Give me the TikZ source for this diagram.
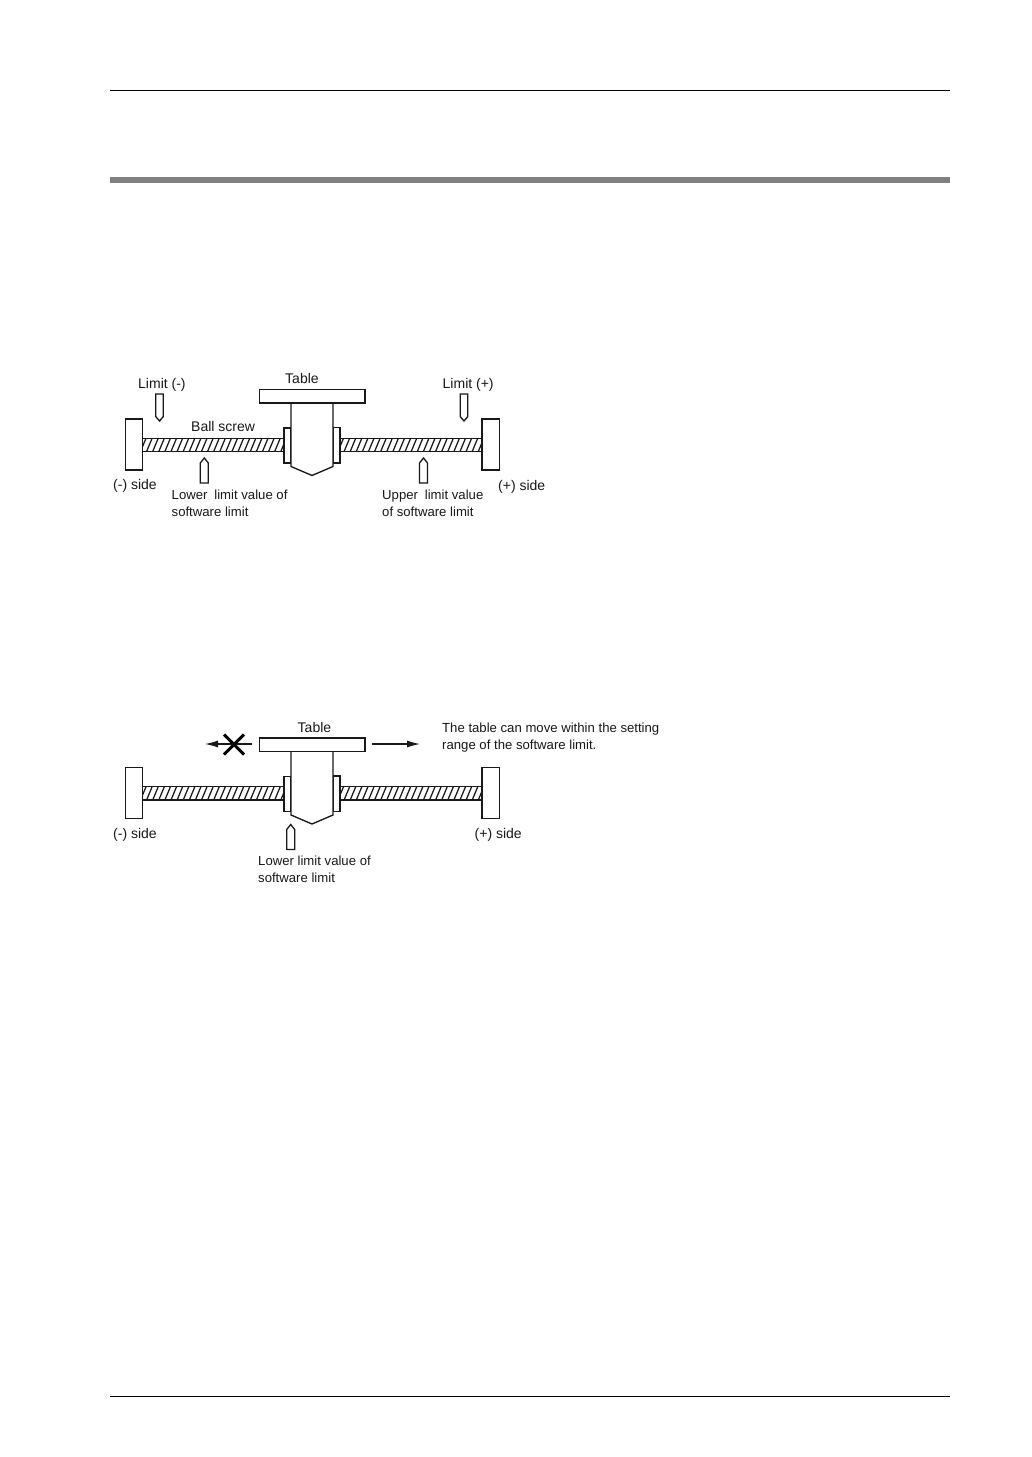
\documentclass[tikz,border=0pt]{standalone}
\usepackage{fontspec}
\setmainfont{Liberation Sans}
\usetikzlibrary{arrows.meta}
\tikzset{
  part/.style={draw=black!90,line width=1.35pt,fill=white},
  lbl/.style={inner sep=0pt,anchor=base west,font=\fontsize{14}{15}\selectfont,text=black!90},
  lbs/.style={inner sep=0pt,anchor=base west,font=\fontsize{13.15}{15}\selectfont,text=black!90},
  rule/.style={draw=black,line width=.9pt},
  hatch/.style={draw=black!90,line width=1.25pt},
  marker/.style={draw=black!90,line width=1.3pt,fill=white,line join=miter},
  movearrow/.style={draw=black!90,line width=1.1pt,-{Latex[length=13pt,width=7pt]}},
  cross/.style={draw=black,line width=3pt}
}
\newcommand{\downmark}[2]{\draw[marker] ({#1-3.8},#2) -- ({#1+3.8},#2) -- ({#1+3.8},{#2+22.5}) -- (#1,{#2+27}) -- ({#1-3.8},{#2+22.5}) -- cycle;}
\newcommand{\upmark}[2]{\draw[marker] ({#1-4},#2) -- ({#1+4},#2) -- ({#1+4},{#2-20}) -- (#1,{#2-25}) -- ({#1-4},{#2-20}) -- cycle;}
\newcommand{\screwpart}[2]{%
  \begin{scope}\clip (#1,438.3) rectangle (#2,451.5);
    \foreach \i in {-1,0,...,24}{\draw[hatch] ({#1+6.1*\i-2},451.5) -- ({#1+6.1*\i+3.5},438.3);}
  \end{scope}
  \draw[hatch] (#1,438.3) -- (#2,438.3) (#1,451.5) -- (#2,451.5);}
\newcommand{\assembly}{%
  \screwpart{142.5}{284}
  \screwpart{340}{482}
  \draw[part] (125.5,419) rectangle (142.5,470);
  \draw[part] (482,419) rectangle (499.5,470);
  \draw[part] (284,428) rectangle (291,463);
  \draw[part] (333,427.5) rectangle (340,463);
  \draw[part] (291,403) -- (291,466.5) -- (312,475.5) -- (333,466.5) -- (333,403);
  \draw[part] (259.5,389.5) rectangle (365,403);
}
\begin{document}
\begin{tikzpicture}[x=1pt,y=-1pt]
\useasboundingbox (0,0) rectangle (1032,1457);
\fill[white] (0,0) rectangle (1032,1457);
\draw[rule] (110,90.5) -- (950,90.5);
\fill[black!50] (110,177) rectangle (950,183);
\draw[rule] (110,1396.5) -- (950,1396.5);

% first diagram
\assembly
\downmark{159.5}{394}
\downmark{464}{394}
\upmark{204.3}{483}
\upmark{423.5}{483}
\node[lbl] (t1) at (285,383) {Table};
\node[lbl] (lm) at (138,388.5) {Limit (-)};
\node[lbl] (lp) at (442.5,388.5) {Limit (+)};
\node[lbl] (bs) at (191,431) {Ball screw};
\node[lbl] (ms) at (113,489) {(-) side};
\node[lbl] (ps) at (498,490) {(+) side};
\node[lbs] (ll1) at (171.5,499.5) {Lower\hspace{3.2pt} limit value of};
\node[lbs] (ll2) at (171.5,516) {software limit};
\node[lbs] (ul1) at (382,499.5) {Upper\hspace{3.2pt} limit value};
\node[lbs] (ul2) at (382,516) {of software limit};

% second diagram
\begin{scope}[yshift=-348.5pt]
\assembly
\end{scope}
\upmark{290.7}{849.5}
\node[lbl] (t2) at (297.5,732) {Table};
\node[lbl] (ms2) at (113,838) {(-) side};
\node[lbl] (ps2) at (474.5,838) {(+) side};
\node[lbs] (ll3) at (258,865) {Lower limit value of};
\node[lbs] (ll4) at (258,882) {software limit};
\node[lbs] (n1) at (442,732) {The table can move within the setting};
\node[lbs] (n2) at (442,749) {range of the software limit.};
\coordinate (la) at (252,744);
\coordinate (lb) at (205,744);
\coordinate (ra) at (372,744);
\coordinate (rb) at (420,744);
\draw[movearrow] (la) -- (lb);
\draw[movearrow] (ra) -- (rb);
\coordinate (c1) at (224,734.5);
\coordinate (c2) at (244,754.5);
\coordinate (c3) at (244,734.5);
\coordinate (c4) at (224,754.5);
\draw[cross] (c1) -- (c2);
\draw[cross] (c3) -- (c4);
\end{tikzpicture}
\end{document}
